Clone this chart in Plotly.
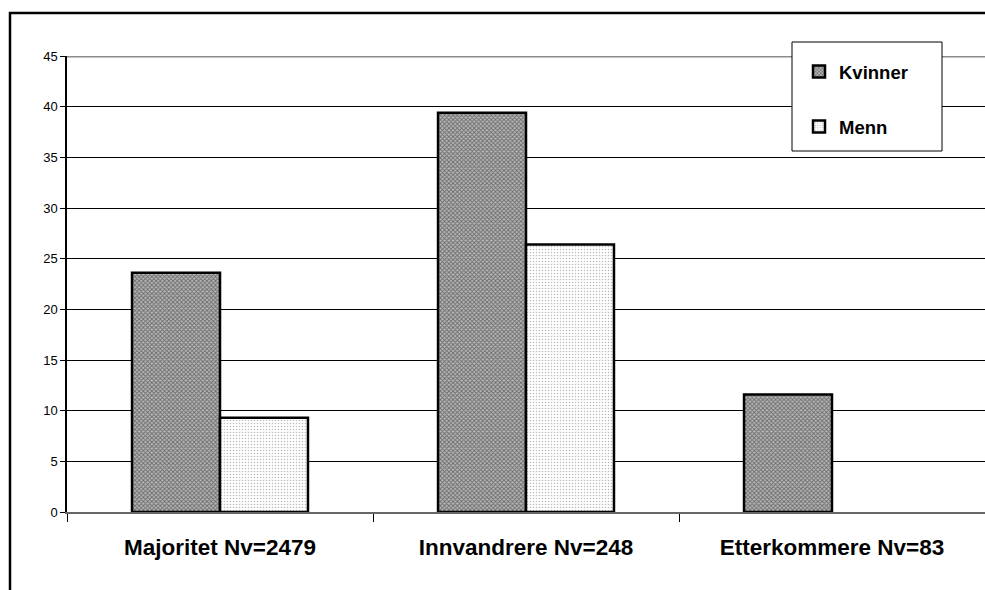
import plotly.graph_objects as go

# Andel (%) per gruppe og kjønn
categories = ["Majoritet Nv=2479", "Innvandrere Nv=248", "Etterkommere Nv=83"]
kvinner = [23.6, 39.4, 11.6]
menn = [9.3, 26.4, None]
y_ticks = [0, 5, 10, 15, 20, 25, 30, 35, 40, 45]

W, H = 985, 590
L, R, T, B = 67, 0, 56, 78
pw, ph = W - L - R, H - T - B


def px_x(x):
    return (x - L) / pw


def px_y(y):
    return (H - B - y) / ph


fig = go.Figure()
fig.add_trace(go.Bar(
    x=categories, y=kvinner, name="Kvinner", legendgroup="k",
    marker=dict(color="white", line=dict(color="black", width=2.5),
                pattern=dict(shape="x", size=3, solidity=0.5,
                             fgcolor="#1e1e1e", bgcolor="#b8b8b8")),
))
fig.add_trace(go.Bar(
    x=categories, y=menn, name="Menn", legendgroup="m",
    marker=dict(color="white", line=dict(color="black", width=2.5),
                pattern=dict(shape=".", size=3, solidity=0.22,
                             fgcolor="#7a7a7a", bgcolor="white")),
))

fig.update_layout(
    width=W, height=H,
    margin=dict(l=L, r=R, t=T, b=B, pad=0),
    paper_bgcolor="white", plot_bgcolor="white",
    barmode="group", bargap=0.425, bargroupgap=0,
    font=dict(family="Liberation Sans, Arial, sans-serif", color="black"),
    showlegend=True,
    legend=dict(x=px_x(799), y=px_y(53), xanchor="left", yanchor="top",
                bgcolor="rgba(0,0,0,0)", borderwidth=0,
                font=dict(size=18.5, family="Liberation Sans, Arial", weight="bold"),
                tracegroupgap=28, itemwidth=30),
    xaxis=dict(type="category", tickson="boundaries", ticks="outside",
               ticklen=8, tickcolor="black", showline=True,
               linecolor="#666666", linewidth=2, showgrid=False,
               tickfont=dict(size=22.5, family="Liberation Sans, Arial", weight="bold"),
               ticklabelstandoff=14),
    yaxis=dict(range=[0, 45], tickvals=y_ticks, ticks="outside", ticklen=5,
               tickcolor="black", showline=True, linecolor="black", linewidth=1.5,
               showgrid=True, gridcolor="black", gridwidth=1,
               tickfont=dict(size=13), zeroline=False),
    shapes=[
        # top edge of the plot area
        dict(type="line", xref="paper", yref="y", x0=0, x1=1, y0=45, y1=45,
             line=dict(color="#8c8c8c", width=3), layer="above"),
        # legend box
        dict(type="rect", xref="paper", yref="paper",
             x0=px_x(792), x1=px_x(942), y0=px_y(151), y1=px_y(42),
             fillcolor="white", line=dict(color="black", width=1), layer="above"),
        # outer frame
        dict(type="rect", xref="paper", yref="paper",
             x0=px_x(10), x1=px_x(1000), y0=px_y(620), y1=px_y(13),
             fillcolor="rgba(0,0,0,0)", line=dict(color="black", width=2.5),
             layer="above"),
    ],
)

fig.write_html("out.html")
